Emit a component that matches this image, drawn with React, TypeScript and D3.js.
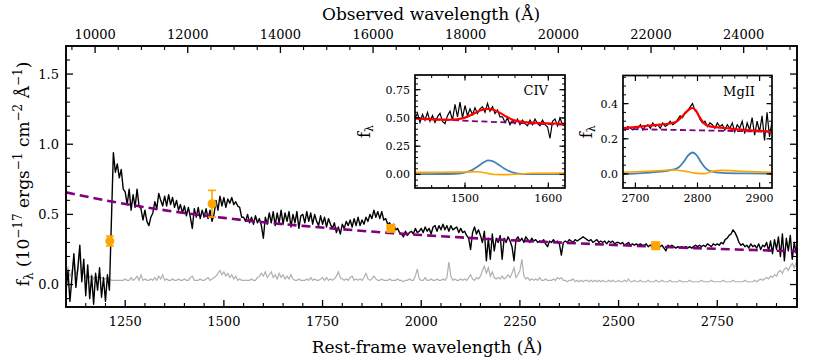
import React from "react";
import * as d3 from "d3";

// redshift factor for the observed-frame axis on top
const ONE_PLUS_Z = 8.52;

// rest-frame spectrum, one value every 5 A starting at 1100 A
const specStart = 1100;
const specStep = 5;
const specFlux = [
  -0.05, 0.10, -0.12, 0.05, 0.22, -0.02, 0.12, 0.28, 0.02, 0.18, // 1100
  -0.08, 0.14, -0.10, 0.06, -0.14, 0.08, -0.04, 0.12, -0.09, 0.05, // 1150
  -0.12, 0.07, -0.04, 0.45, 0.94, 0.80, 0.86, 0.76, 0.82, 0.68, // 1200
  0.66, 0.57, 0.68, 0.53, 0.64, 0.55, 0.68, 0.56, 0.54, 0.46, // 1250
  0.53, 0.45, 0.42, 0.48, 0.51, 0.59, 0.54, 0.65, 0.60, 0.56, // 1300
  0.63, 0.56, 0.64, 0.57, 0.62, 0.55, 0.60, 0.53, 0.57, 0.51, // 1350
  0.56, 0.49, 0.55, 0.48, 0.40, 0.54, 0.48, 0.55, 0.47, 0.53, // 1400
  0.48, 0.54, 0.47, 0.53, 0.45, 0.50, 0.60, 0.53, 0.63, 0.56, // 1450
  0.62, 0.55, 0.61, 0.58, 0.62, 0.57, 0.59, 0.56, 0.55, 0.48, // 1500
  0.48, 0.45, 0.50, 0.44, 0.48, 0.43, 0.49, 0.44, 0.47, 0.42, // 1550
  0.33, 0.48, 0.43, 0.51, 0.44, 0.52, 0.42, 0.51, 0.44, 0.53, // 1600
  0.43, 0.51, 0.45, 0.52, 0.41, 0.50, 0.44, 0.52, 0.40, 0.49, // 1650
  0.50, 0.44, 0.52, 0.45, 0.51, 0.43, 0.50, 0.45, 0.42, 0.49, // 1700
  0.43, 0.48, 0.41, 0.47, 0.43, 0.40, 0.44, 0.37, 0.41, 0.36, // 1750
  0.43, 0.40, 0.45, 0.42, 0.46, 0.41, 0.47, 0.42, 0.48, 0.42, // 1800
  0.46, 0.43, 0.48, 0.45, 0.50, 0.47, 0.53, 0.48, 0.52, 0.47, // 1850
  0.52, 0.46, 0.47, 0.43, 0.44, 0.40, 0.43, 0.39, 0.40, 0.37, // 1900
  0.36, 0.34, 0.38, 0.35, 0.37, 0.38, 0.36, 0.40, 0.37, 0.38, // 1950
  0.40, 0.37, 0.41, 0.38, 0.40, 0.36, 0.41, 0.42, 0.38, 0.42, // 2000
  0.39, 0.43, 0.39, 0.42, 0.38, 0.42, 0.39, 0.40, 0.41, 0.37, // 2050
  0.40, 0.37, 0.38, 0.35, 0.33, 0.25, 0.37, 0.41, 0.36, 0.39, // 2100
  0.35, 0.30, 0.38, 0.17, 0.33, 0.18, 0.36, 0.24, 0.33, 0.30, // 2150
  0.35, 0.18, 0.33, 0.30, 0.34, 0.31, 0.27, 0.17, 0.32, 0.34, // 2200
  0.31, 0.33, 0.30, 0.34, 0.32, 0.30, 0.33, 0.31, 0.32, 0.30, // 2250
  0.31, 0.30, 0.32, 0.29, 0.27, 0.31, 0.30, 0.32, 0.30, 0.31, // 2300
  0.29, 0.21, 0.30, 0.31, 0.30, 0.32, 0.31, 0.30, 0.32, 0.31, // 2350
  0.32, 0.33, 0.34, 0.33, 0.32, 0.31, 0.32, 0.30, 0.31, 0.32, // 2400
  0.30, 0.31, 0.30, 0.31, 0.29, 0.31, 0.30, 0.31, 0.29, 0.30, // 2450
  0.30, 0.29, 0.30, 0.28, 0.29, 0.30, 0.28, 0.29, 0.28, 0.29, // 2500
  0.28, 0.29, 0.28, 0.28, 0.29, 0.27, 0.28, 0.28, 0.27, 0.28, // 2550
  0.28, 0.27, 0.28, 0.26, 0.24, 0.28, 0.27, 0.28, 0.27, 0.26, // 2600
  0.27, 0.26, 0.27, 0.26, 0.27, 0.26, 0.27, 0.26, 0.27, 0.28, // 2650
  0.27, 0.28, 0.27, 0.28, 0.27, 0.29, 0.28, 0.27, 0.29, 0.28, // 2700
  0.29, 0.28, 0.30, 0.29, 0.32, 0.33, 0.35, 0.36, 0.39, 0.37, // 2750
  0.34, 0.30, 0.28, 0.29, 0.27, 0.28, 0.26, 0.29, 0.27, 0.28, // 2800
  0.26, 0.29, 0.25, 0.28, 0.27, 0.30, 0.24, 0.31, 0.22, 0.32, // 2850
  0.25, 0.34, 0.20, 0.36, 0.17, 0.33, 0.24, 0.35, 0.18, 0.30, // 2900
  0.22, // 2950
];
const specErr = [
  0.08, 0.12, 0.06, 0.09, 0.18, 0.07, 0.10, 0.22, 0.06, 0.09, // 1100
  0.05, 0.08, 0.05, 0.07, 0.04, 0.06, 0.05, 0.04, 0.05, 0.04, // 1150
  0.04, 0.05, 0.04, 0.03, 0.03, 0.03, 0.03, 0.03, 0.03, 0.03, // 1200
  0.04, 0.03, 0.03, 0.05, 0.03, 0.04, 0.06, 0.03, 0.07, 0.03, // 1250
  0.04, 0.03, 0.03, 0.04, 0.03, 0.05, 0.03, 0.06, 0.04, 0.07, // 1300
  0.03, 0.04, 0.03, 0.03, 0.04, 0.03, 0.03, 0.04, 0.03, 0.03, // 1350
  0.04, 0.03, 0.03, 0.05, 0.06, 0.03, 0.03, 0.03, 0.04, 0.03, // 1400
  0.03, 0.04, 0.05, 0.03, 0.04, 0.05, 0.06, 0.08, 0.10, 0.07, // 1450
  0.09, 0.06, 0.08, 0.05, 0.07, 0.04, 0.06, 0.03, 0.04, 0.03, // 1500
  0.03, 0.03, 0.03, 0.03, 0.04, 0.03, 0.03, 0.05, 0.06, 0.08, // 1550
  0.06, 0.09, 0.05, 0.07, 0.09, 0.05, 0.07, 0.04, 0.08, 0.05, // 1600
  0.07, 0.04, 0.06, 0.04, 0.07, 0.04, 0.03, 0.03, 0.04, 0.03, // 1650
  0.03, 0.03, 0.04, 0.03, 0.05, 0.03, 0.04, 0.03, 0.03, 0.04, // 1700
  0.05, 0.03, 0.05, 0.03, 0.04, 0.03, 0.04, 0.06, 0.09, 0.05, // 1750
  0.04, 0.03, 0.04, 0.03, 0.05, 0.06, 0.03, 0.04, 0.03, 0.04, // 1800
  0.03, 0.05, 0.08, 0.04, 0.03, 0.04, 0.06, 0.04, 0.03, 0.03, // 1850
  0.04, 0.03, 0.03, 0.03, 0.04, 0.03, 0.03, 0.03, 0.04, 0.03, // 1900
  0.03, 0.02, 0.03, 0.03, 0.04, 0.03, 0.03, 0.06, 0.11, 0.04, // 1950
  0.03, 0.03, 0.05, 0.03, 0.03, 0.04, 0.03, 0.03, 0.04, 0.03, // 2000
  0.03, 0.04, 0.03, 0.05, 0.16, 0.06, 0.03, 0.04, 0.03, 0.03, // 2050
  0.04, 0.03, 0.04, 0.03, 0.05, 0.07, 0.04, 0.03, 0.05, 0.04, // 2100
  0.06, 0.10, 0.13, 0.08, 0.12, 0.06, 0.09, 0.05, 0.04, 0.05, // 2150
  0.04, 0.06, 0.04, 0.05, 0.07, 0.05, 0.08, 0.12, 0.05, 0.07, // 2200
  0.10, 0.18, 0.06, 0.04, 0.05, 0.03, 0.04, 0.03, 0.04, 0.03, // 2250
  0.05, 0.03, 0.03, 0.04, 0.03, 0.03, 0.03, 0.04, 0.03, 0.05, // 2300
  0.04, 0.05, 0.03, 0.03, 0.02, 0.03, 0.03, 0.04, 0.02, 0.03, // 2350
  0.02, 0.03, 0.02, 0.03, 0.03, 0.02, 0.03, 0.02, 0.03, 0.02, // 2400
  0.03, 0.02, 0.03, 0.02, 0.02, 0.03, 0.02, 0.03, 0.02, 0.02, // 2450
  0.03, 0.02, 0.02, 0.03, 0.02, 0.04, 0.02, 0.02, 0.03, 0.02, // 2500
  0.02, 0.03, 0.02, 0.02, 0.02, 0.03, 0.02, 0.02, 0.02, 0.03, // 2550
  0.02, 0.02, 0.03, 0.02, 0.02, 0.02, 0.03, 0.02, 0.02, 0.02, // 2600
  0.02, 0.03, 0.02, 0.02, 0.02, 0.02, 0.03, 0.02, 0.02, 0.02, // 2650
  0.02, 0.02, 0.03, 0.02, 0.02, 0.02, 0.02, 0.03, 0.02, 0.02, // 2700
  0.02, 0.02, 0.02, 0.03, 0.02, 0.02, 0.02, 0.02, 0.03, 0.02, // 2750
  0.02, 0.02, 0.02, 0.02, 0.03, 0.02, 0.02, 0.02, 0.02, 0.03, // 2800
  0.02, 0.03, 0.04, 0.03, 0.04, 0.05, 0.04, 0.06, 0.05, 0.07, // 2850
  0.06, 0.09, 0.10, 0.08, 0.11, 0.12, 0.10, 0.13, 0.15, 0.12, // 2900
  0.16, // 2950
];

// power-law continuum (dashed purple)
const contWave = [1100, 1200, 1300, 1400, 1500, 1600, 1700, 1800, 1900, 2000, 2100, 2200, 2300, 2400, 2500, 2600, 2700, 2800, 2900, 2950];
const contFlux = [0.657, 0.6, 0.551, 0.51, 0.475, 0.444, 0.418, 0.394, 0.372, 0.353, 0.336, 0.32, 0.306, 0.293, 0.281, 0.27, 0.259, 0.25, 0.241, 0.237];

// photometry
const photWave = [1211, 1470];
const photFlux = [0.31, 0.576];
const photErr = [0.035, 0.095];
const boxWave = [1923, 2594];
const boxFlux = [0.4, 0.277];

const restTicks = [1250, 1500, 1750, 2000, 2250, 2500, 2750];
const obsTicks = [10000, 12000, 14000, 16000, 18000, 20000, 22000, 24000];
const fluxTicks = [0, 0.5, 1.0, 1.5];

// CIV inset: data every 3 A from 1440 A
const civStart = 1440;
const civStep = 3;
const civFlux = [
  0.5, 0.54, 0.46, 0.53, 0.48, 0.55, 0.47, 0.52, 0.46, 0.51,
  0.54, 0.47, 0.45, 0.52, 0.56, 0.48, 0.62, 0.51, 0.64, 0.5,
  0.61, 0.52, 0.58, 0.53, 0.59, 0.54, 0.58, 0.6, 0.55, 0.63,
  0.56, 0.6, 0.54, 0.57, 0.51, 0.51, 0.46, 0.5, 0.44, 0.48,
  0.45, 0.49, 0.44, 0.48, 0.45, 0.43, 0.48, 0.44, 0.49, 0.45,
  0.43, 0.48, 0.44, 0.42, 0.32, 0.47, 0.49, 0.43, 0.5, 0.44,
  0.43,
];
const civModelWave = [1440, 1450, 1460, 1470, 1480, 1490, 1500, 1510, 1518, 1526, 1534, 1542, 1550, 1558, 1566, 1576, 1590, 1605, 1620];
const civModelFlux = [0.497, 0.492, 0.488, 0.485, 0.484, 0.488, 0.503, 0.535, 0.565, 0.58, 0.572, 0.545, 0.51, 0.482, 0.467, 0.46, 0.455, 0.451, 0.447];
const civContWave = [1440, 1480, 1520, 1560, 1600, 1620];
const civContFlux = [0.497, 0.482, 0.469, 0.457, 0.445, 0.44];
const civLineWave = [1440, 1480, 1495, 1503, 1510, 1517, 1523, 1528, 1533, 1540, 1547, 1554, 1562, 1575, 1620];
const civLineFlux = [0.003, 0.004, 0.01, 0.022, 0.045, 0.08, 0.11, 0.124, 0.117, 0.088, 0.053, 0.026, 0.01, 0.004, 0.002];
const civFeWave = [1440, 1470, 1500, 1515, 1525, 1535, 1550, 1565, 1580, 1620];
const civFeFlux = [0.018, 0.019, 0.022, 0.024, 0.012, 0.0, -0.002, 0.004, 0.01, 0.012];

// MgII inset: data every 4 A from 2680 A
const mgStart = 2680;
const mgStep = 4;
const mgFlux = [
  0.27, 0.25, 0.27, 0.26, 0.25, 0.27, 0.26, 0.28, 0.25, 0.27,
  0.28, 0.26, 0.29, 0.27, 0.28, 0.26, 0.29, 0.27, 0.28, 0.3,
  0.28, 0.29, 0.31, 0.33, 0.32, 0.35, 0.36, 0.38, 0.4, 0.36,
  0.35, 0.31, 0.29, 0.3, 0.27, 0.29, 0.28, 0.26, 0.29, 0.27,
  0.28, 0.25, 0.28, 0.26, 0.29, 0.24, 0.28, 0.26, 0.3, 0.23,
  0.29, 0.25, 0.32, 0.22, 0.3, 0.24, 0.33, 0.19, 0.35, 0.21,
  0.3,
];
const mgModelWave = [2680, 2700, 2720, 2740, 2755, 2765, 2772, 2780, 2787, 2792, 2797, 2803, 2810, 2818, 2830, 2850, 2870, 2895, 2920];
const mgModelFlux = [0.261, 0.267, 0.274, 0.281, 0.287, 0.295, 0.315, 0.345, 0.368, 0.375, 0.362, 0.325, 0.29, 0.272, 0.266, 0.259, 0.252, 0.246, 0.241];
const mgContWave = [2680, 2740, 2800, 2860, 2920];
const mgContFlux = [0.256, 0.252, 0.248, 0.244, 0.24];
const mgLineWave = [2680, 2710, 2740, 2760, 2770, 2778, 2785, 2792, 2799, 2806, 2813, 2822, 2840, 2880, 2920];
const mgLineFlux = [0.0, 0.005, 0.013, 0.024, 0.038, 0.07, 0.105, 0.122, 0.105, 0.065, 0.033, 0.014, 0.006, 0.003, 0.002];
const mgFeWave = [2680, 2720, 2760, 2785, 2800, 2812, 2825, 2840, 2870, 2920];
const mgFeFlux = [0.01, 0.015, 0.022, 0.012, 0.003, 0.002, 0.016, 0.02, 0.015, 0.009];

const FONT = "DejaVu Serif";
const PURPLE = "#800080";
const ORANGE = "#ffa500";
const BLUE = "#4682b4";
const RED = "#ff0000";
const GREY = "#b0b0b0";

type Scale = d3.ScaleLinear<number, number>;

function xTicks(x: Scale, vals: number[], edge: number, len: number, dir: number, sw: number) {
  return vals.map((v, i) => (
    <line key={i} x1={x(v)} x2={x(v)} y1={edge} y2={edge + dir * len} stroke="#000" strokeWidth={sw} />
  ));
}

function yTicks(y: Scale, vals: number[], edge: number, len: number, dir: number, sw: number) {
  return vals.map((v, i) => (
    <line key={i} x1={edge} x2={edge + dir * len} y1={y(v)} y2={y(v)} stroke="#000" strokeWidth={sw} />
  ));
}

function inside(s: Scale, v: number) {
  const [a, b] = s.domain();
  const lo = Math.min(a, b), hi = Math.max(a, b);
  const eps = (hi - lo) * 0.002;
  return v > lo + eps && v < hi - eps;
}

function xyLine(x: Scale, y: Scale, w: number[], f: number[], smooth = false) {
  const gen = d3
    .line<number>()
    .x((_, i) => x(w[i]))
    .y((d) => y(d));
  if (smooth) gen.curve(d3.curveMonotoneX);
  return gen(f) || "";
}

function Inset(props: {
  id: string;
  x: Scale;
  y: Scale;
  wave: number[];
  flux: number[];
  modelWave: number[];
  model: number[];
  contWave: number[];
  cont: number[];
  lineWave: number[];
  line: number[];
  feWave: number[];
  fe: number[];
  xMajor: number[];
  xMinorStep: number;
  yMajor: number[];
  yMinorStep: number;
  yFmt: (v: number) => string;
  name: string;
  fLabelX: number;
}) {
  const { x, y } = props;
  const [x0, x1] = x.range();
  const [yb, yt] = y.range();
  const xMinor = d3
    .range(Math.ceil(x.domain()[0] / props.xMinorStep), Math.floor(x.domain()[1] / props.xMinorStep) + 1)
    .map((k) => k * props.xMinorStep)
    .filter((v) => inside(x, v));
  const yMinor = d3
    .range(Math.ceil(y.domain()[0] / props.yMinorStep), Math.floor(y.domain()[1] / props.yMinorStep) + 1)
    .map((k) => +(k * props.yMinorStep).toFixed(4))
    .filter((v) => inside(y, v));
  return (
    <g>
      <defs>
        <clipPath id={props.id}>
          <rect x={x0} y={yt} width={x1 - x0} height={yb - yt} />
        </clipPath>
      </defs>
      <rect x={x0} y={yt} width={x1 - x0} height={yb - yt} fill="#fff" />
      <g clipPath={`url(#${props.id})`} fill="none">
        <path d={xyLine(x, y, props.wave, props.flux)} stroke="#000" strokeWidth={1.2} />
        <path d={xyLine(x, y, props.contWave, props.cont, true)} stroke={PURPLE} strokeWidth={1.8} strokeDasharray="6,3.5" />
        <path d={xyLine(x, y, props.modelWave, props.model, true)} stroke={RED} strokeWidth={2.2} />
        <path d={xyLine(x, y, props.lineWave, props.line, true)} stroke={BLUE} strokeWidth={1.8} />
        <path d={xyLine(x, y, props.feWave, props.fe, true)} stroke={ORANGE} strokeWidth={1.6} />
      </g>
      {xTicks(x, xMinor, yb, 3, -1, 1)}
      {xTicks(x, xMinor, yt, 3, 1, 1)}
      {xTicks(x, props.xMajor, yb, 5.5, -1, 1.2)}
      {xTicks(x, props.xMajor, yt, 5.5, 1, 1.2)}
      {yTicks(y, yMinor, x0, 3, 1, 1)}
      {yTicks(y, yMinor, x1, 3, -1, 1)}
      {yTicks(y, props.yMajor, x0, 5.5, 1, 1.2)}
      {yTicks(y, props.yMajor, x1, 5.5, -1, 1.2)}
      <rect x={x0} y={yt} width={x1 - x0} height={yb - yt} fill="none" stroke="#000" strokeWidth={1.7} />
      <g fontFamily={FONT} fontSize={11} fill="#000">
        {props.xMajor.map((v) => (
          <text key={v} x={x(v)} y={yb + 13.5} textAnchor="middle">
            {v}
          </text>
        ))}
        {props.yMajor.map((v) => (
          <text key={v} x={x0 - 5} y={y(v) + 4} textAnchor="end">
            {props.yFmt(v)}
          </text>
        ))}
        <text x={x1 - 17} y={yt + 20} textAnchor="end" fontSize={13}>
          {props.name}
        </text>
        <text transform={`translate(${props.fLabelX},${(yt + yb) / 2}) rotate(-90)`} textAnchor="middle" fontSize={16}>
          f<tspan fontSize={11} dy={3}>λ</tspan>
        </text>
      </g>
    </g>
  );
}

export default function App() {
  const left = 66, right = 797, top = 46, bottom = 307;
  const x = d3.scaleLinear().domain([1100, 2952]).range([left, right]);
  const y = d3.scaleLinear().domain([-0.16, 1.7]).range([bottom, top]);

  const specWave = specFlux.map((_, i) => specStart + i * specStep);
  const civWave = civFlux.map((_, i) => civStart + i * civStep);
  const mgWave = mgFlux.map((_, i) => mgStart + i * mgStep);

  const restMinor = d3.range(1100, 2951, 50).filter((v) => inside(x, v) && !restTicks.includes(v));
  const obsMinor = d3
    .range(9500, 25001, 500)
    .filter((v) => !obsTicks.includes(v))
    .map((v) => v / ONE_PLUS_Z)
    .filter((v) => inside(x, v));
  const obsMajor = obsTicks.map((v) => v / ONE_PLUS_Z);
  const yMinor = d3.range(-1, 18).map((k) => k / 10).filter((v) => inside(y, v));

  const civX = d3.scaleLinear().domain([1440, 1620]).range([415, 565]);
  const civY = d3.scaleLinear().domain([-0.12, 0.88]).range([188, 75]);
  const mgX = d3.scaleLinear().domain([2680, 2920]).range([623, 772]);
  const mgY = d3.scaleLinear().domain([-0.08, 0.56]).range([188, 75.5]);

  const fmt1 = d3.format(".1f");
  const fmt2 = d3.format(".2f");

  return (
    <svg width={830} height={363} style={{ position: "absolute", left: 0, top: 0, background: "#fff" }}>
      <defs>
        <clipPath id="mainclip">
          <rect x={left} y={top} width={right - left} height={bottom - top} />
        </clipPath>
      </defs>
      <rect x={0} y={0} width={830} height={363} fill="#fff" />
      <g clipPath="url(#mainclip)" fill="none">
        <path d={xyLine(x, y, specWave, specErr)} stroke={GREY} strokeWidth={1.2} />
        <path d={xyLine(x, y, specWave, specFlux)} stroke="#000" strokeWidth={1.4} strokeLinejoin="round" />
        <path d={xyLine(x, y, contWave, contFlux, true)} stroke={PURPLE} strokeWidth={2.6} strokeDasharray="9,5" />
        {photWave.map((w, i) => (
          <g key={i} stroke={ORANGE} strokeWidth={1.6}>
            <line x1={x(w)} x2={x(w)} y1={y(photFlux[i] - photErr[i])} y2={y(photFlux[i] + photErr[i])} />
            <line x1={x(w) - 4} x2={x(w) + 4} y1={y(photFlux[i] - photErr[i])} y2={y(photFlux[i] - photErr[i])} />
            <line x1={x(w) - 4} x2={x(w) + 4} y1={y(photFlux[i] + photErr[i])} y2={y(photFlux[i] + photErr[i])} />
            <circle cx={x(w)} cy={y(photFlux[i])} r={4.5} fill={ORANGE} stroke="none" />
          </g>
        ))}
        {boxWave.map((w, i) => (
          <rect key={i} x={x(w) - 4.5} y={y(boxFlux[i]) - 4.5} width={9} height={9} fill={ORANGE} />
        ))}
      </g>

      {xTicks(x, restMinor, bottom, 4, -1, 1.1)}
      {xTicks(x, restTicks, bottom, 7, -1, 1.3)}
      {xTicks(x, obsMinor, top, 4, 1, 1.1)}
      {xTicks(x, obsMajor, top, 7, 1, 1.3)}
      {yTicks(y, yMinor.filter((v) => !fluxTicks.includes(v)), left, 4, 1, 1.1)}
      {yTicks(y, fluxTicks, left, 7, 1, 1.3)}
      {yTicks(y, yMinor.filter((v) => !fluxTicks.includes(v)), right, 4, -1, 1.1)}
      {yTicks(y, fluxTicks, right, 7, -1, 1.3)}
      <rect x={left} y={top} width={right - left} height={bottom - top} fill="none" stroke="#000" strokeWidth={1.9} />

      <g fontFamily={FONT} fontSize={13} fill="#000">
        {restTicks.map((v) => (
          <text key={v} x={x(v)} y={326} textAnchor="middle">
            {v}
          </text>
        ))}
        {obsTicks.map((v) => (
          <text key={v} x={x(v / ONE_PLUS_Z)} y={39} textAnchor="middle">
            {v}
          </text>
        ))}
        {fluxTicks.map((v) => (
          <text key={v} x={59} y={y(v) + 4.5} textAnchor="end">
            {fmt1(v)}
          </text>
        ))}
        <text x={431} y={19.5} textAnchor="middle" fontSize={17}>
          Observed wavelength (Å)
        </text>
        <text x={427} y={353} textAnchor="middle" fontSize={17}>
          Rest-frame wavelength (Å)
        </text>
        <text transform="translate(29,174) rotate(-90)" textAnchor="middle" fontSize={17}>
          f<tspan fontSize={12} dy={4}>λ</tspan>
          <tspan dy={-4}> (10</tspan>
          <tspan fontSize={12} dy={-7}>−17</tspan>
          <tspan dy={7}> ergs</tspan>
          <tspan fontSize={12} dy={-7}>−1</tspan>
          <tspan dy={7}> cm</tspan>
          <tspan fontSize={12} dy={-7}>−2</tspan>
          <tspan dy={7}> Å</tspan>
          <tspan fontSize={12} dy={-7}>−1</tspan>
          <tspan dy={7}>)</tspan>
        </text>
      </g>

      <Inset
        id="civclip"
        x={civX}
        y={civY}
        wave={civWave}
        flux={civFlux}
        modelWave={civModelWave}
        model={civModelFlux}
        contWave={civContWave}
        cont={civContFlux}
        lineWave={civLineWave}
        line={civLineFlux}
        feWave={civFeWave}
        fe={civFeFlux}
        xMajor={[1500, 1600]}
        xMinorStep={20}
        yMajor={[0, 0.25, 0.5, 0.75]}
        yMinorStep={0.05}
        yFmt={fmt2}
        name="CIV"
        fLabelX={370}
      />
      <Inset
        id="mgclip"
        x={mgX}
        y={mgY}
        wave={mgWave}
        flux={mgFlux}
        modelWave={mgModelWave}
        model={mgModelFlux}
        contWave={mgContWave}
        cont={mgContFlux}
        lineWave={mgLineWave}
        line={mgLineFlux}
        feWave={mgFeWave}
        fe={mgFeFlux}
        xMajor={[2700, 2800, 2900]}
        xMinorStep={20}
        yMajor={[0, 0.2, 0.4]}
        yMinorStep={0.05}
        yFmt={fmt1}
        name="MgII"
        fLabelX={592}
      />
    </svg>
  );
}
